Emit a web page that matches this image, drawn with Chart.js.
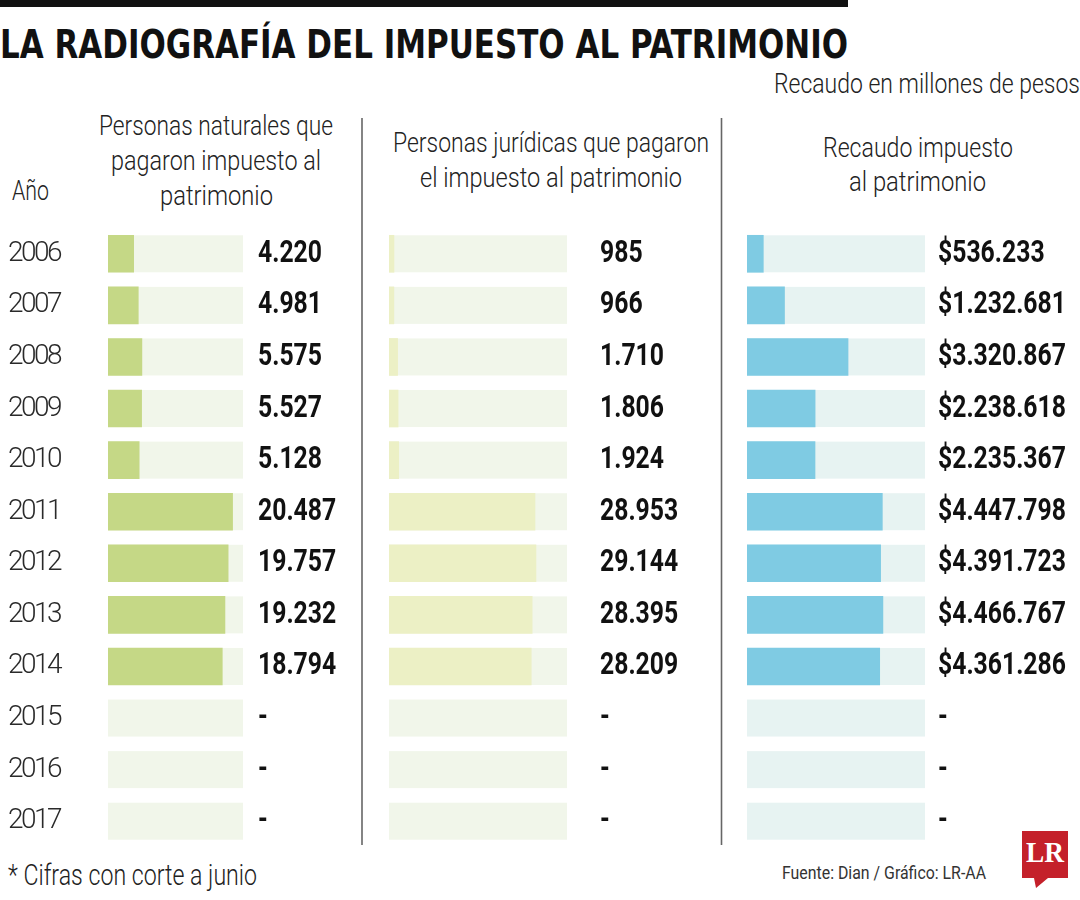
<!DOCTYPE html>
<html><head><meta charset="utf-8">
<script src="https://cdn.jsdelivr.net/npm/chart.js@4.4.1/dist/chart.umd.min.js"></script>
<style>
html,body{margin:0;padding:0;background:#fff;width:1080px;height:900px;overflow:hidden}
#stage{position:relative;width:1080px;height:900px}
#deco{position:absolute;left:0;top:0}
.cw{position:absolute;top:228px;height:619px}
</style></head><body>
<div id="stage">
<svg id="deco" width="1080" height="900" xmlns="http://www.w3.org/2000/svg"></svg>
<div class="cw" style="left:0;width:360px"><canvas id="c1"></canvas></div>
<div class="cw" style="left:370px;width:350px"><canvas id="c2"></canvas></div>
<div class="cw" style="left:730px;width:350px"><canvas id="c3"></canvas></div>
</div>
<script>
// ---- data ----
const years = ['2006','2007','2008','2009','2010','2011','2012','2013','2014','2015','2016','2017'];
const naturales = [4220, 4981, 5575, 5527, 5128, 20487, 19757, 19232, 18794, null, null, null];
const juridicas = [985, 966, 1710, 1806, 1924, 28953, 29144, 28395, 28209, null, null, null];
const recaudo = [536233, 1232681, 3320867, 2238618, 2235367, 4447798, 4391723, 4466767, 4361286, null, null, null];
const axisMax = { naturales: 22200, juridicas: 35300, recaudo: 5850000 };

const FONT = 'Roboto, "DejaVu Sans Condensed", sans-serif';
const TITLE_FONT = '"DejaVu Sans Condensed", "DejaVu Sans", sans-serif';

function fmt(v, prefix) {
  if (v === null || v === undefined) return '-';
  return prefix + String(v).replace(/\B(?=(\d{3})+(?!\d))/g, '.');
}

// track behind each bar
const trackPlugin = {
  id: 'track',
  beforeDraw(chart, args, opts) {
    chart.ctx.letterSpacing = opts.tickSpacing || '0px';
  },
  beforeDatasetsDraw(chart, args, opts) {
    const { ctx, chartArea } = chart;
    const y = chart.scales.y;
    ctx.save();
    ctx.letterSpacing = '0px';
    ctx.fillStyle = opts.color;
    years.forEach((_, i) => {
      const c = y.getPixelForValue(i);
      ctx.fillRect(chartArea.left, c - opts.thickness / 2, chartArea.right - chartArea.left, opts.thickness);
    });
    ctx.restore();
  },
  afterDraw(chart) { chart.ctx.letterSpacing = '0px'; }
};
// value labels right of each track
const labelPlugin = {
  id: 'valueLabels',
  afterDatasetsDraw(chart, args, opts) {
    const { ctx, chartArea } = chart;
    const y = chart.scales.y;
    const vals = chart.data.datasets[0].data;
    ctx.save();
    ctx.letterSpacing = '0px';
    ctx.font = 'bold 32px ' + FONT;
    ctx.fillStyle = '#111';
    ctx.textAlign = 'left';
    ctx.textBaseline = 'alphabetic';
    const sx = 14.2 / ctx.measureText('0').width;
    vals.forEach((v, i) => {
      const c = y.getPixelForValue(i);
      const x = chartArea.right + opts.gap;
      ctx.save();
      ctx.translate(x, c + 8);
      ctx.scale(sx, 1);
      ctx.fillText(fmt(v, opts.prefix), 0, 0);
      ctx.restore();
    });
    ctx.restore();
  }
};

function makeChart(id, values, max, barColor, trackColor, pad, gap, prefix, showYears) {
  return new Chart(document.getElementById(id), {
    type: 'bar',
    data: { labels: years, datasets: [{ data: values, backgroundColor: barColor, barThickness: 37, borderWidth: 0 }] },
    options: {
      indexAxis: 'y', responsive: true, maintainAspectRatio: false, animation: false,
      layout: { padding: { left: pad[0], right: pad[1], top: 0, bottom: 0 } },
      plugins: {
        legend: { display: false }, tooltip: { enabled: false },
        track: { color: trackColor, thickness: 37, tickSpacing: '-2.5px' },
        valueLabels: { gap: gap, prefix: prefix }
      },
      scales: {
        x: { display: false, min: 0, max: max },
        y: {
          display: showYears,
          grid: { display: false }, border: { display: false },
          ticks: { font: { family: FONT, size: 28, weight: '300' }, color: '#2a2a2a', crossAlign: 'far', padding: 0 },
          afterFit(axis) {
            if (showYears) axis.width = 100;
            axis.paddingTop = 0; axis.paddingBottom = 0;
          }
        }
      }
    },
    plugins: [trackPlugin, labelPlugin]
  });
}

makeChart('c1', naturales, axisMax.naturales, '#c5d886', '#f1f6ea', [8, 117], 15, '', true);
makeChart('c2', juridicas, axisMax.juridicas, '#ecf0c5', '#f1f6ea', [19, 153], 33, '', false);
makeChart('c3', recaudo, axisMax.recaudo, '#7fcbe3', '#e7f3f2', [17, 155], 13, '$', false);

// ---- decoration / texts ----
const NS = 'http://www.w3.org/2000/svg';
const svg = document.getElementById('deco');
function el(tag, attrs, text) {
  const e = document.createElementNS(NS, tag);
  for (const k in attrs) e.setAttribute(k, attrs[k]);
  if (text !== undefined) e.textContent = text;
  svg.appendChild(e);
  return e;
}
function txt(s, x, y, size, len, weight, fill, family) {
  return el('text', { x: x, y: y, 'font-size': size, 'font-family': family || FONT, 'font-weight': weight || '300',
    fill: fill || '#222', textLength: len, lengthAdjust: 'spacingAndGlyphs' }, s);
}
el('rect', { x: 0, y: 0, width: 848, height: 7, fill: '#111' });
txt('LA RADIOGRAFÍA DEL IMPUESTO AL PATRIMONIO', 0, 58, 39, 848, 'bold', '#111', TITLE_FONT);
txt('Recaudo en millones de pesos', 774, 93, 28, 306);
txt('Personas naturales que', 99, 135, 28, 234);
txt('pagaron impuesto al', 111, 170, 28, 210);
txt('patrimonio', 160, 205, 28, 113);
txt('Año', 12, 200, 28, 37);
txt('Personas jurídicas que pagaron', 393, 152, 28, 316);
txt('el impuesto al patrimonio', 420, 187, 28, 262);
txt('Recaudo impuesto', 823, 157, 28, 190);
txt('al patrimonio', 849, 191, 28, 137);
el('line', { x1: 362, y1: 118, x2: 362, y2: 845, stroke: '#666', 'stroke-width': 1.6 });
el('line', { x1: 721.5, y1: 118, x2: 721.5, y2: 845, stroke: '#666', 'stroke-width': 1.6 });
txt('* Cifras con corte a junio', 8, 885, 29, 249);
txt('Fuente: Dian / Gráfico: LR-AA', 782, 879, 18, 204, 'normal', '#333');
el('path', { d: 'M1022 831 H1068 V878 H1048 L1036 888 L1034 878 H1022 Z', fill: '#c4202a' });
txt('LR', 1026, 862, 29, 38, 'bold', '#fff', '"Liberation Serif", "DejaVu Serif", serif');
</script>
</body></html>
